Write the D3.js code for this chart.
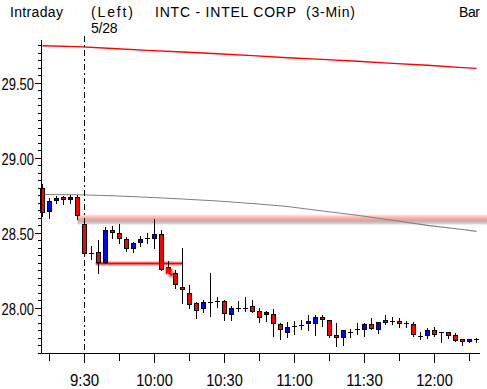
<!DOCTYPE html>
<html><head><meta charset="utf-8">
<script src="https://cdn.jsdelivr.net/npm/d3@7"></script>
<style>body{margin:0;background:#fff}svg{display:block}text{font-family:"Liberation Sans Narrow","Liberation Sans",sans-serif;fill:#000}</style>
</head><body>
<script>
// ---- data (3-min bars, INTC) ----
const opens  = [28.795,28.645,28.716,28.736,28.723,28.736,28.556,28.368,28.369,28.303,28.516,28.496,28.456,28.396,28.438,28.467,28.463,28.489,28.273,28.229,28.140,28.096,28.029,27.996,28.037,28.036,28.048,27.956,27.996,27.996,28.011,27.976,27.956,27.957,27.889,27.840,27.875,27.888,27.896,27.895,27.936,27.916,27.816,27.803,27.838,27.857,27.856,27.889,27.860,27.918,27.911,27.911,27.896,27.889,27.813,27.816,27.851,27.836,27.838,27.818,27.789,27.776,27.789];
const highs  = [28.825,28.729,28.747,28.747,28.751,28.751,28.598,28.411,28.451,28.540,28.548,28.556,28.471,28.440,28.478,28.496,28.591,28.518,28.311,28.251,28.400,28.151,28.040,28.051,28.229,28.071,28.051,28.011,28.048,28.071,28.051,28.001,27.981,27.989,27.896,27.907,27.911,27.916,27.951,27.953,27.951,27.918,27.899,27.851,27.858,27.896,27.900,27.929,27.908,27.951,27.936,27.929,27.911,27.907,27.836,27.867,27.869,27.836,27.838,27.829,27.793,27.793,27.798];
const lows   = [28.611,28.596,28.696,28.689,28.696,28.589,28.345,28.325,28.233,28.301,28.465,28.431,28.375,28.369,28.413,28.429,28.396,28.251,28.229,28.133,28.033,27.996,27.933,27.973,27.947,28.005,27.918,27.918,27.981,27.980,27.971,27.907,27.913,27.811,27.793,27.808,27.825,27.856,27.853,27.816,27.876,27.807,27.748,27.753,27.807,27.826,27.811,27.856,27.833,27.889,27.889,27.873,27.873,27.813,27.789,27.796,27.811,27.769,27.800,27.778,27.751,27.769,27.773];
const closes = [28.635,28.711,28.733,28.723,28.738,28.618,28.363,28.368,28.303,28.518,28.503,28.463,28.395,28.429,28.458,28.467,28.491,28.258,28.245,28.156,28.125,28.023,27.983,28.036,28.037,28.048,27.963,27.997,27.996,27.996,27.981,27.941,27.971,27.896,27.856,27.869,27.875,27.888,27.911,27.936,27.923,27.816,27.803,27.849,27.838,27.857,27.889,27.865,27.907,27.903,27.911,27.896,27.896,27.823,27.813,27.851,27.823,27.836,27.816,27.785,27.776,27.789,27.789];

// moving averages, sampled at bar indices
const maIdx  = [0,5,10,15,20,25,30,35,40,45,50,55,60,62];
const maRed  = [29.747,29.741,29.728,29.716,29.705,29.693,29.681,29.667,29.656,29.643,29.629,29.617,29.601,29.596];
const maGray = [28.755,28.753,28.746,28.737,28.725,28.711,28.695,28.675,28.645,28.616,28.583,28.549,28.521,28.509];

// tick labels (every 10 bars, from the 9:30 bar)
const tickLabelIdx = [6,16,26,36,46,56];
const tickLabels   = ["9:30","10:00","10:30","11:00","11:30","12:00"];
const yLabels      = [28.00,28.50,29.00,29.50];
const sessionIdx   = 6;          // 5/28 session start
const bandLevel    = 28.59;      // highlighted level
const bandStartIdx = 5;
const lineLevel    = 28.30;      // drawn horizontal line
const lineStartIdx = 7.6, lineEndIdx = 20;

// ---- layout ----
const W = 487, H = 389;
const svg = d3.select("body").append("svg").attr("width", W).attr("height", H);
const defs = svg.append("defs");

const x = d3.scaleLinear().domain([0, 62]).range([42.5, 476.5]);
const y = d3.scaleLinear().domain([27.698, 29.785]).range([353, 40]);
const axisX = 41.5, axisBottom = 353.5, plotRight = 480;

// header text
function txt(s, xx, yy, len, anchor) {
  const t = svg.append("text").attr("x", xx).attr("y", yy).attr("font-size", 14).text(s)
    .attr("textLength", len).attr("lengthAdjust", "spacing");
  if (anchor) t.attr("text-anchor", anchor);
  return t;
}
txt("Intraday", 10, 17, 53);
txt("(Left)", 91, 17, 42);
txt("INTC - INTEL CORP  (3-Min)", 155, 17, 200).attr("xml:space", "preserve");
txt("Bar", 459, 17, 21);
txt("5/28", 91, 33, 26.5);

// band gradient
const g1 = defs.append("linearGradient").attr("id", "band").attr("x1", 0).attr("y1", 0).attr("x2", 0).attr("y2", 1);
[[0,"#ffffff",0],[0.2,"#ffd0d0",1],[0.45,"#f4a4a4",1],[0.6,"#d0a8a8",1],[0.78,"#c0c0c0",0.8],[1,"#ffffff",0]]
  .forEach(([o,c,a]) => g1.append("stop").attr("offset", o).attr("stop-color", c).attr("stop-opacity", a));
const bandY = y(bandLevel);
svg.append("rect").attr("x", x(bandStartIdx)).attr("y", bandY - 6).attr("width", W - x(bandStartIdx))
  .attr("height", 13).attr("fill", "url(#band)");

// moving averages
const maLine = d3.line().x((d, i) => x(maIdx[i]));
svg.append("path").datum(maRed).attr("d", maLine.y(d => y(d))).attr("fill", "none")
  .attr("stroke", "#ff0000").attr("stroke-width", 1.4);
svg.append("path").datum(maGray).attr("d", maLine.y(d => y(d))).attr("fill", "none")
  .attr("stroke", "#808080").attr("stroke-width", 1.1);

// session divider
svg.append("line").attr("x1", x(sessionIdx)).attr("x2", x(sessionIdx)).attr("y1", 36).attr("y2", 353)
  .attr("stroke", "#000").attr("stroke-dasharray", "6,3,2,3");

// drawn horizontal line with glow
const ly = Math.round(y(lineLevel)) + 0.5;
svg.append("line").attr("x1", x(lineStartIdx)).attr("x2", x(lineEndIdx)).attr("y1", ly).attr("y2", ly)
  .attr("stroke", "#ff8080").attr("stroke-opacity", 0.45).attr("stroke-width", 5);
svg.append("line").attr("x1", x(lineStartIdx)).attr("x2", x(lineEndIdx)).attr("y1", ly).attr("y2", ly)
  .attr("stroke", "#ff0000").attr("stroke-width", 2);

// candles
const g = svg.append("g");
d3.range(opens.length).forEach(i => {
  const cx = Math.floor(x(i)) + 0.5;
  const o = opens[i], c = closes[i], h = highs[i], l = lows[i];
  g.append("line").attr("x1", cx).attr("x2", cx)
    .attr("y1", Math.round(y(h))).attr("y2", Math.round(y(l)) + 1)
    .attr("stroke", "#000").attr("stroke-width", 1);
  const yt = Math.round(y(Math.max(o, c))), yb = Math.round(y(Math.min(o, c)));
  if (yb - yt < 1.5) {
    g.append("line").attr("x1", cx - 2.5).attr("x2", cx + 2.5).attr("y1", yt + 0.5).attr("y2", yt + 0.5)
      .attr("stroke", "#000").attr("stroke-width", 1);
  } else {
    g.append("rect").attr("x", cx - 2).attr("y", yt + 0.5).attr("width", 4).attr("height", yb - yt)
      .attr("fill", c > o ? "#0000ff" : "#ff0000").attr("stroke", "#000").attr("stroke-width", 1);
  }
});

// cursor marker with shadow
const blur = defs.append("filter").attr("id", "blur").attr("x", "-50%").attr("y", "-50%").attr("width", "200%").attr("height", "200%");
blur.append("feGaussianBlur").attr("stdDeviation", 1.6);
const mx = x(18.2), my = y(28.24);
const arrow = `M${mx-4},${my-4} L${mx+3},${my-2} L${mx},${my} L${mx+3},${my+3} L${mx+1},${my+4} L${mx-2},${my+1} L${mx-4},${my+3} Z`;
svg.append("path").attr("d", arrow).attr("transform", "translate(3,3)").attr("fill", "#404040").attr("opacity", 0.7).attr("filter", "url(#blur)");
svg.append("path").attr("d", arrow).attr("fill", "#ff2020").attr("opacity", 0.85).attr("filter", "url(#blur)");
svg.append("path").attr("d", arrow).attr("fill", "#ff0000");

// y axis
const ax = svg.append("g");
ax.append("line").attr("x1", axisX).attr("x2", axisX).attr("y1", 40).attr("y2", axisBottom).attr("stroke", "#000");
d3.range(27.70, 29.78, 0.05).forEach(v => {
  const yy = Math.round(y(v)) + 0.5;
  const major = yLabels.some(m => Math.abs(m - v) < 0.001);
  ax.append("line").attr("x1", major ? 35 : 38).attr("x2", axisX).attr("y1", yy).attr("y2", yy).attr("stroke", "#000");
});
yLabels.forEach(v => {
  svg.append("text").attr("x", 34).attr("y", Math.round(y(v)) + 7).attr("font-size", 17)
    .attr("text-anchor", "end").attr("textLength", 32.5).attr("lengthAdjust", "spacingAndGlyphs")
    .text(v.toFixed(2));
});

// x axis
ax.append("line").attr("x1", axisX).attr("x2", plotRight).attr("y1", axisBottom).attr("y2", axisBottom).attr("stroke", "#000");
d3.range(1, 63, 5).forEach(i => {
  const xx = Math.floor(x(i)) + 0.5;
  const labeled = tickLabelIdx.includes(i);
  ax.append("line").attr("x1", xx).attr("x2", xx).attr("y1", axisBottom).attr("y2", labeled ? 363 : 361).attr("stroke", "#000");
});
tickLabelIdx.forEach((i, k) => {
  const s = tickLabels[k];
  svg.append("text").attr("x", Math.floor(x(i)) + 0.5).attr("y", 386).attr("font-size", 17)
    .attr("text-anchor", "middle").attr("textLength", s.length * 7.3).attr("lengthAdjust", "spacingAndGlyphs").text(s);
});
</script>
</body></html>
